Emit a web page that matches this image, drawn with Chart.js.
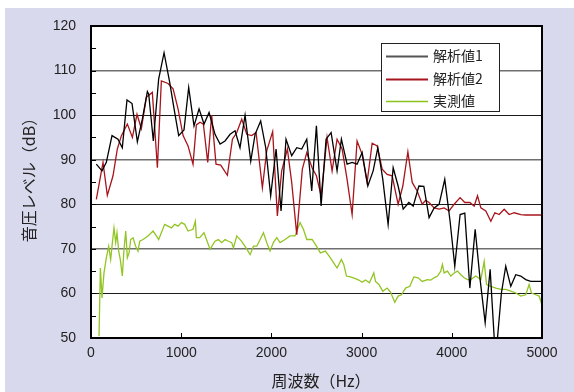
<!DOCTYPE html>
<html>
<head>
<meta charset="utf-8">
<script src="https://cdn.jsdelivr.net/npm/chart.js@4.4.1/dist/chart.umd.min.js"></script>
<style>
  html, body { margin: 0; padding: 0; background: #fff; }
  canvas { display: block; }
</style>
</head>
<body>
<canvas id="chart" width="574" height="392"></canvas>
<script>
// 解析値1
var freq1 = [59,122,170,233,299,347,399,455,514,569,625,640,691,750,810,872,921,972,1031,1083,1142,1198,1253,1309,1375,1431,1486,1542,1597,1652,1708,1771,1819,1881,1937,1992,2052,2107,2162,2225,2281,2336,2392,2447,2499,2551,2606,2662,2728,2776,2839,2895,2950,3006,3069,3128,3180,3235,3294,3350,3405,3461,3524,3572,3635,3690,3748,3804,3859,3922,3981,4033,4092,4144,4200,4259,4314,4370,4425,4485,4550,4598,4654,4709,4764,4820,4875,5000];
var level1 = [89.0,87.5,89.4,95.4,94.6,92.7,103.4,102.6,94.0,99.1,105.3,104.7,94.2,108.1,114.0,107.4,101.4,95.4,96.7,106.2,97.6,101.4,98.0,100.6,95.7,93.5,94.2,95.7,96.5,92.7,100.0,89.7,95.7,98.7,92.7,81.9,92.4,78.5,94.6,90.9,92.7,92.4,94.6,83.0,97.6,79.6,94.6,96.1,87.5,94.6,89.0,89.4,89.0,91.6,84.1,87.5,92.7,85.6,75.5,88.2,84.1,78.9,80.4,79.6,84.1,84.0,77.0,79.2,80.0,85.6,76.2,66.1,77.7,78.0,61.2,74.4,63.1,53.4,65.4,45,60.1,66.1,61.6,64.2,63.9,63.1,62.7,62.7];

// 解析値2
var freq2 = [59,133,181,244,292,337,403,459,510,558,614,680,736,780,854,910,965,1021,1076,1131,1168,1209,1246,1294,1338,1386,1438,1512,1568,1616,1671,1727,1782,1830,1900,1948,2014,2066,2114,2177,2225,2281,2343,2392,2451,2499,2551,2617,2673,2728,2784,2839,2895,2950,3006,3061,3117,3172,3228,3283,3339,3405,3457,3513,3561,3616,3672,3710,3748,3804,3859,3915,3970,4026,4092,4144,4200,4248,4285,4322,4377,4433,4477,4525,4581,4636,4692,4764,4820,5000];
var level2 = [81.1,89.4,82.0,86.4,92.4,95.4,98.0,95.0,100.2,97.0,104.0,105.1,88.2,107.7,107.1,105.9,101.4,95.4,93.1,89.0,97.8,98.4,98.0,89.4,100.0,89.0,88.8,86.5,94.6,96.1,99.1,95.7,95.4,96.1,83.7,92.0,96.3,77.4,87.5,92.4,84.9,73.2,87.9,91.6,88.2,86.4,81.9,95.0,87.5,94.6,92.4,85.6,77.7,94.2,91.2,84.9,93.7,93.1,87.9,86.7,86.4,80.0,84.1,91.8,84.9,83.0,80.0,80.9,80.4,79.2,78.9,79.2,78.5,80.0,81.5,80.4,80.4,79.6,81.9,79.2,78.5,76.2,78.1,77.7,78.9,77.7,78.1,77.7,77.6,77.6];

// 実測値
var freq3 = [89,104,122,144,170,196,218,237,255,274,288,307,325,347,366,385,403,422,440,466,495,521,540,577,632,688,725,750,780,817,854,891,928,965,1002,1039,1076,1131,1157,1168,1205,1253,1320,1375,1412,1449,1486,1523,1560,1579,1616,1671,1719,1764,1801,1838,1875,1912,1948,1985,2022,2059,2096,2151,2207,2262,2318,2355,2392,2451,2488,2543,2599,2654,2728,2776,2802,2832,2876,2932,2969,3006,3043,3087,3135,3154,3191,3235,3283,3320,3368,3405,3442,3487,3535,3579,3627,3672,3730,3767,3804,3841,3878,3896,3915,3952,3989,4026,4063,4100,4137,4174,4211,4266,4322,4359,4385,4433,4488,4544,4599,4654,4710,4765,4820,4857,4883,4931,4968,4987,5000];
var level3 = [50.4,65.7,59.0,64.6,68.0,70.6,67.6,71.4,74.7,71.4,73.6,69.5,67.6,63.9,69.9,74.0,68.0,69.1,72.1,72.5,70.6,69.5,71.7,72.1,72.9,74.0,72.9,72.1,73.6,75.5,75.1,74.7,75.5,75.1,75.9,75.5,74.0,74.4,76.2,72.5,72.5,73.6,69.9,71.7,72.1,71.4,72.1,71.7,71.4,70.2,72.9,71.7,70.2,68.7,70.6,70.6,72.1,73.6,71.4,69.5,71.4,72.5,71.4,72.1,72.9,72.9,75.9,74.4,72.1,72.1,71.0,69.1,69.5,68.0,65.7,67.6,66.5,63.9,63.7,63.3,63.0,62.5,63.0,62.4,64.6,62.7,62.0,60.5,61.2,60.3,58.0,59.4,59.7,61.2,61.6,63.7,63.5,62.7,63.1,63.0,63.5,63.9,65.0,66.5,64.6,65.0,63.9,64.6,65.0,64.2,63.5,63.1,63.1,63.9,63.1,67.2,62.0,61.6,61.2,60.9,60.9,60.5,60.1,59.4,59.7,62.0,60.1,59.7,59.4,58.2,59.4];

var seriesNames = ['解析値1', '解析値2', '実測値'];
var xTitle = '周波数（Hz）';
var yTitle = '音圧レベル（dB）';

function pairs(xs, ys) {
  return xs.map(function (x, i) { return { x: x, y: ys[i] }; });
}

var frame = {
  id: 'frame',
  beforeDraw: function (chart) {
    var c = chart.ctx, a = chart.chartArea;
    c.save();
    c.fillStyle = '#ffffff';
    c.fillRect(0, 0, chart.width, chart.height);
    c.fillStyle = '#d9d9ed';
    c.fillRect(5, 8, chart.width - 5, chart.height - 8);
    c.fillStyle = '#ffffff';
    c.fillRect(a.left, a.top, a.right - a.left, a.bottom - a.top);
    c.restore();
  },
  afterDraw: function (chart) {
    var c = chart.ctx, a = chart.chartArea;
    var xs = chart.scales.x, ys = chart.scales.y;
    c.save();
    // inner tick marks
    c.strokeStyle = '#000';
    c.lineWidth = 1;
    c.beginPath();
    for (var v = 55; v < 120; v += 5) {
      var py = Math.round(ys.getPixelForValue(v)) + 0.5;
      c.moveTo(a.left, py);
      c.lineTo(a.left + 5, py);
    }
    for (var f = 1000; f < 5000; f += 1000) {
      var px = Math.round(xs.getPixelForValue(f)) + 0.5;
      c.moveTo(px, a.bottom);
      c.lineTo(px, a.bottom - 5);
    }
    c.stroke();
    // plot box
    c.lineWidth = 2;
    c.strokeRect(a.left, a.top, a.right - a.left, a.bottom - a.top);

    // legend
    var lx = 381, ly = 43, lw = 118, lh = 68;
    c.fillStyle = '#fff';
    c.fillRect(lx, ly, lw, lh);
    c.lineWidth = 1;
    c.strokeStyle = '#222';
    c.strokeRect(lx + 0.5, ly + 0.5, lw, lh);
    c.font = '14px "Noto Sans CJK JP", sans-serif';
    c.textBaseline = 'middle';
    c.textAlign = 'left';
    var rows = [56, 79, 101];
    var lwidths = [2, 2, 1.6];
    var lcolors = ['#555555', '#a8141c', '#8cc21c'];
    chart.data.datasets.forEach(function (ds, i) {
      c.strokeStyle = lcolors[i];
      c.lineWidth = lwidths[i];
      c.beginPath();
      c.moveTo(386, rows[i] + 0.5);
      c.lineTo(428, rows[i] + 0.5);
      c.stroke();
      c.fillStyle = '#222';
      c.fillText(ds.label, 433, rows[i]);
    });

    // axis titles
    c.font = '16px "Noto Sans CJK JP", sans-serif';
    c.fillStyle = '#222';
    c.textAlign = 'center';
    c.fillText(xTitle, 321, 381);
    c.translate(29, 176);
    c.rotate(-Math.PI / 2);
    c.fillText(yTitle, 0, 0);
    c.restore();
  }
};

new Chart(document.getElementById('chart'), {
  type: 'line',
  data: {
    datasets: [
      { label: seriesNames[0], data: pairs(freq1, level1), borderColor: '#000000', borderWidth: 1.3 },
      { label: seriesNames[1], data: pairs(freq2, level2), borderColor: '#a8141c', borderWidth: 1.3 },
      { label: seriesNames[2], data: pairs(freq3, level3), borderColor: '#92c423', borderWidth: 1.3 }
    ]
  },
  options: {
    responsive: false,
    animation: false,
    devicePixelRatio: 1,
    elements: { point: { radius: 0 }, line: { tension: 0 } },
    layout: { padding: { left: 0, top: 26, right: 32, bottom: 0 } },
    plugins: { legend: { display: false }, tooltip: { enabled: false } },
    scales: {
      x: {
        type: 'linear', min: 0, max: 5000,
        ticks: {
          stepSize: 1000, color: '#222', padding: 7,
          font: { family: 'Liberation Sans, Arial, sans-serif', size: 14 },
          callback: function (v) { return String(v); }
        },
        grid: { display: false, drawTicks: false },
        border: { display: false },
        afterFit: function (s) { s.height = 54; }
      },
      y: {
        min: 50, max: 120,
        ticks: { stepSize: 10, color: '#222', padding: 15, font: { family: 'Liberation Sans, Arial, sans-serif', size: 14 } },
        grid: {
          drawTicks: false,
          color: function (ctx) {
            var v = ctx.tick.value;
            if (v === 50 || v === 120) return 'rgba(0,0,0,0)';
            return (v % 20 === 10) ? '#6f6f6f' : '#1a1a1a';
          },
          lineWidth: function (ctx) { return ctx.tick.value % 20 === 10 ? 1.6 : 1; }
        },
        border: { display: false },
        afterFit: function (s) { s.width = 91; }
      }
    }
  },
  plugins: [frame]
});
</script>
</body>
</html>
